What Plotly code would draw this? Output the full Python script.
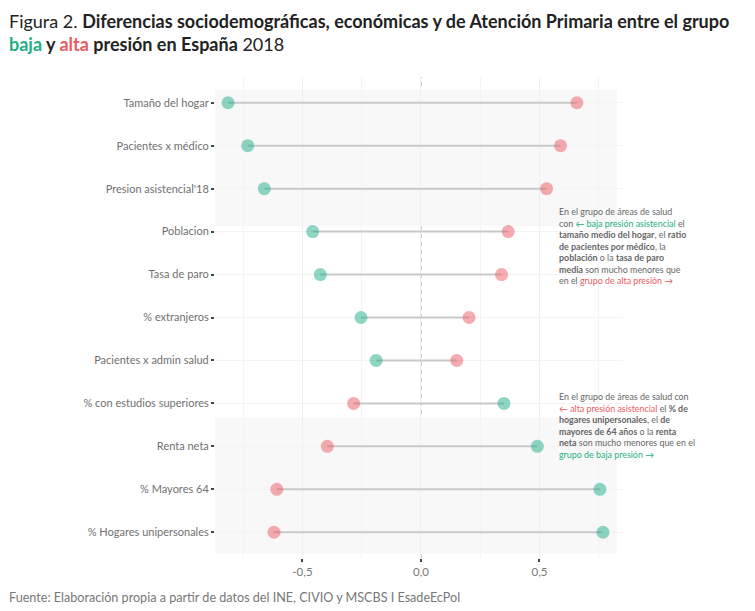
import plotly.graph_objects as go

# categorias (de arriba a abajo) y valores de cada grupo
categorias = ["Tamaño del hogar", "Pacientes x médico", "Presion asistencial'18",
              "Poblacion", "Tasa de paro", "% extranjeros", "Pacientes x admin salud",
              "% con estudios superiores", "Renta neta", "% Mayores 64",
              "% Hogares unipersonales"]
baja = [-0.814, -0.731, -0.661, -0.457, -0.425, -0.253, -0.189, 0.350, 0.491, 0.755, 0.768]
alta = [0.658, 0.589, 0.530, 0.368, 0.340, 0.203, 0.151, -0.284, -0.395, -0.608, -0.620]
ticks_x = [-0.5, 0.0, 0.5]
ticks_x_txt = ["-0,5", "0,0", "0,5"]

VERDE = "#1fae86"
ROJO = "#ec5a62"
W, H = 755, 611
OFF = 8  # margen del body de la pagina
L, R, T, B = 215 - OFF, 132 + OFF, 77 - OFF, 53 + OFF

def px_x(p):
    return (p - OFF - L) / (W - L - R)

def px_y(p):
    return (H - B - (p - OFF)) / (H - T - B)

pos = list(range(1, len(categorias) + 1))

seg_x, seg_y = [], []
for i, p in enumerate(pos):
    seg_x += [baja[i], alta[i], None]
    seg_y += [p, p, None]

fig = go.Figure()
fig.add_trace(go.Scatter(x=seg_x, y=seg_y, mode="lines",
                         line=dict(color="#c9c9c9", width=2), hoverinfo="skip"))
fig.add_trace(go.Scatter(x=baja, y=pos, mode="markers", name="baja",
                         marker=dict(size=13, color=VERDE, opacity=0.5)))
fig.add_trace(go.Scatter(x=alta, y=pos, mode="markers", name="alta",
                         marker=dict(size=13, color=ROJO, opacity=0.5)))

# zonas sombreadas
for y0, y1 in [(0.7, 3.88), (8.33, 11.49)]:
    fig.add_shape(type="rect", xref="x", yref="y", x0=-0.869, x1=0.827, y0=y0, y1=y1,
                  fillcolor="#f8f8f8", line_width=0, layer="below")

fig.add_shape(type="line", xref="x", yref="paper", x0=0, x1=0, y0=0, y1=1,
              line=dict(color="#b3b3b3", width=1.3, dash="4px,4px"), layer="below")

fig.update_xaxes(range=[-0.869, 0.8525], tickvals=ticks_x, ticktext=ticks_x_txt,
                 showgrid=True, gridcolor="#efefef", gridwidth=1,
                 minor=dict(dtick=0.25, tick0=0.25, showgrid=True, gridcolor="#f4f4f4"),
                 ticks="outside", ticklen=3, tickcolor="#444", tickwidth=1.5,
                 zeroline=False, showline=False,
                 tickfont=dict(family="Lato", size=11.5, color="#777"))
fig.update_yaxes(range=[11.6, 0.4], tickvals=pos, ticktext=categorias,
                 showgrid=True, gridcolor="#f3f3f3", zeroline=False, showline=False,
                 ticks="outside", ticklen=3, tickcolor="#444", tickwidth=1.5,
                 tickfont=dict(family="Lato", size=11, color="#707070"))

titulo = ("Figura 2. <b>Diferencias sociodemográficas, económicas y de Atención Primaria entre el grupo</b><br>"
          f"<b><span style='color:{VERDE}'>baja</span> y <span style='color:{ROJO}'>alta</span> presión en España</b> 2018")
fig.add_annotation(text=titulo, xref="paper", yref="paper", x=px_x(7), y=px_y(8),
                   xanchor="left", yanchor="top", align="left", showarrow=False,
                   font=dict(family="Lato", size=18, color="#222"))

nota1 = ("En el grupo de áreas de salud<br>"
         f"con <span style='color:{VERDE}'>← baja presión asistencial</span> el<br>"
         "<b>tamaño medio del hogar</b>, el <b>ratio</b><br>"
         "<b>de pacientes por médico</b>, la<br>"
         "<b>población</b> o la <b>tasa de paro</b><br>"
         "<b>media</b> son mucho menores que<br>"
         f"en el <span style='color:{ROJO}'>grupo de alta presión →</span>")
nota2 = ("En el grupo de áreas de salud con<br>"
         f"<span style='color:{ROJO}'>← alta presión asistencial</span> el <b>% de</b><br>"
         "<b>hogares unipersonales</b>, el <b>de</b><br>"
         "<b>mayores de 64 años</b> o la <b>renta</b><br>"
         "<b>neta</b> son mucho menores que en el<br>"
         f"<span style='color:{VERDE}'>grupo de baja presión →</span>")
for txt, ytop in [(nota1, 204), (nota2, 389)]:
    fig.add_annotation(text=txt, xref="paper", yref="paper", x=px_x(557), y=px_y(ytop),
                       xanchor="left", yanchor="top", align="left", showarrow=False,
                       font=dict(family="Lato", size=8.9, color="#666"))

fig.add_annotation(text="Fuente: Elaboración propia a partir de datos del INE, CIVIO y MSCBS I EsadeEcPol",
                   xref="paper", yref="paper", x=px_x(7), y=px_y(597),
                   xanchor="left", yanchor="middle", showarrow=False,
                   font=dict(family="Lato", size=12.6, color="#777"))

fig.update_layout(width=W, height=H, margin=dict(l=L, r=R, t=T, b=B),
                  plot_bgcolor="white", paper_bgcolor="white", showlegend=False)

fig.write_html("out.html")
